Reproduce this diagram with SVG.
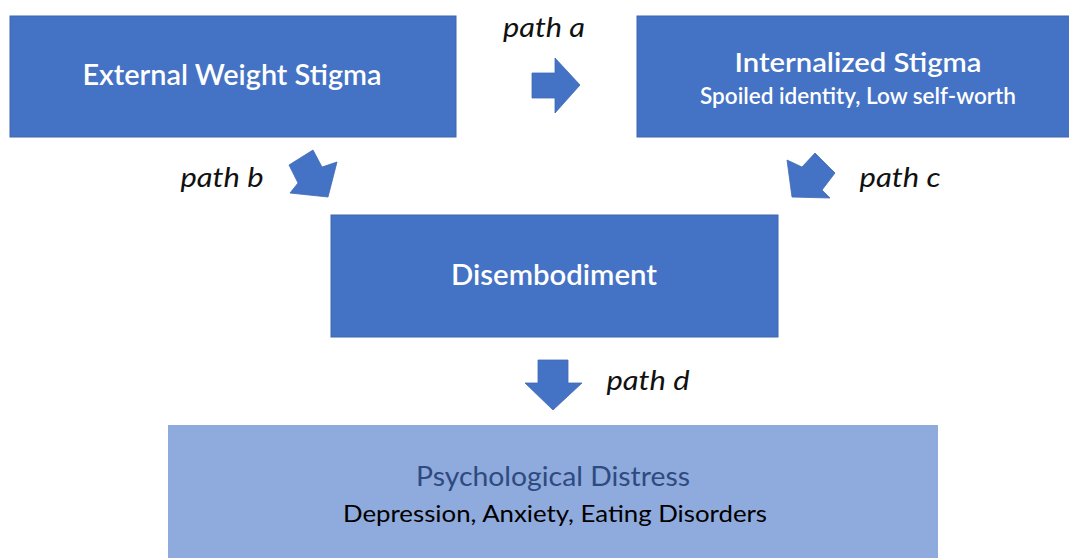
<svg xmlns="http://www.w3.org/2000/svg" width="1069" height="558" viewBox="0 0 1069 558">
<style>
.box{fill:#4472C4;stroke:#3C66B0;stroke-width:1}
.lbox{fill:#8FAADC}
.t{font-family:Lato,"Open Sans","Liberation Sans",sans-serif;fill:#FFFFFF;text-anchor:middle;font-weight:600}
.p{font-family:Lato,"Open Sans","Liberation Sans",sans-serif;font-style:italic;fill:#111111;font-size:27px;font-weight:normal}
.arr{fill:#4472C4;stroke:#3F6BB8;stroke-width:0.8}
</style>
<rect width="1069" height="558" fill="#FFFFFF"/>
<g id="external">
<rect class="box" x="10" y="16" width="446" height="121"/>
<text class="t" x="232" y="85" font-size="29" textLength="299" lengthAdjust="spacingAndGlyphs">External Weight Stigma</text>
</g>
<g id="internalized">
<rect class="box" x="637" y="16" width="440" height="121"/>
<text class="t" x="858" y="72" font-size="27" textLength="247" lengthAdjust="spacingAndGlyphs">Internalized Stigma</text>
<text class="t" x="858" y="104" font-size="22" textLength="316" lengthAdjust="spacingAndGlyphs">Spoiled identity, Low self-worth</text>
</g>
<g id="disembodiment">
<rect class="box" x="331" y="215" width="447" height="122"/>
<text class="t" x="554" y="285" font-size="29" textLength="206" lengthAdjust="spacingAndGlyphs">Disembodiment</text>
</g>
<g id="distress">
<rect class="lbox" x="168" y="425" width="770" height="140"/>
<text class="t" x="553" y="486" font-size="27" style="fill:#2E4A80;font-weight:normal" textLength="274" lengthAdjust="spacingAndGlyphs">Psychological Distress</text>
<text class="t" x="555" y="522" font-size="24" style="fill:#000000;font-weight:normal" textLength="424" lengthAdjust="spacingAndGlyphs">Depression, Anxiety, Eating Disorders</text>
</g>
<g id="connectors">
<polygon class="arr" points="532,73 555,73 555,58 580,85 555,113 555,98 532,98"/>
<polygon class="arr" points="289,165 313,150 322,167 337,162 328,197 290,193 298,183"/>
<polygon class="arr" points="815,153 835,173 822,190 830,198 792,197 787,160 802,167"/>
<polygon class="arr" points="538,360 568,360 568,383 582,383 553,410 525,383 538,383"/>
<text class="p" x="544" y="37" text-anchor="middle" textLength="82" lengthAdjust="spacingAndGlyphs">path a</text>
<text class="p" x="222" y="187" text-anchor="middle" textLength="83" lengthAdjust="spacingAndGlyphs">path b</text>
<text class="p" x="900" y="187" text-anchor="middle" textLength="81" lengthAdjust="spacingAndGlyphs">path c</text>
<text class="p" x="648" y="390" text-anchor="middle" textLength="83" lengthAdjust="spacingAndGlyphs">path d</text>
</g>
</svg>
